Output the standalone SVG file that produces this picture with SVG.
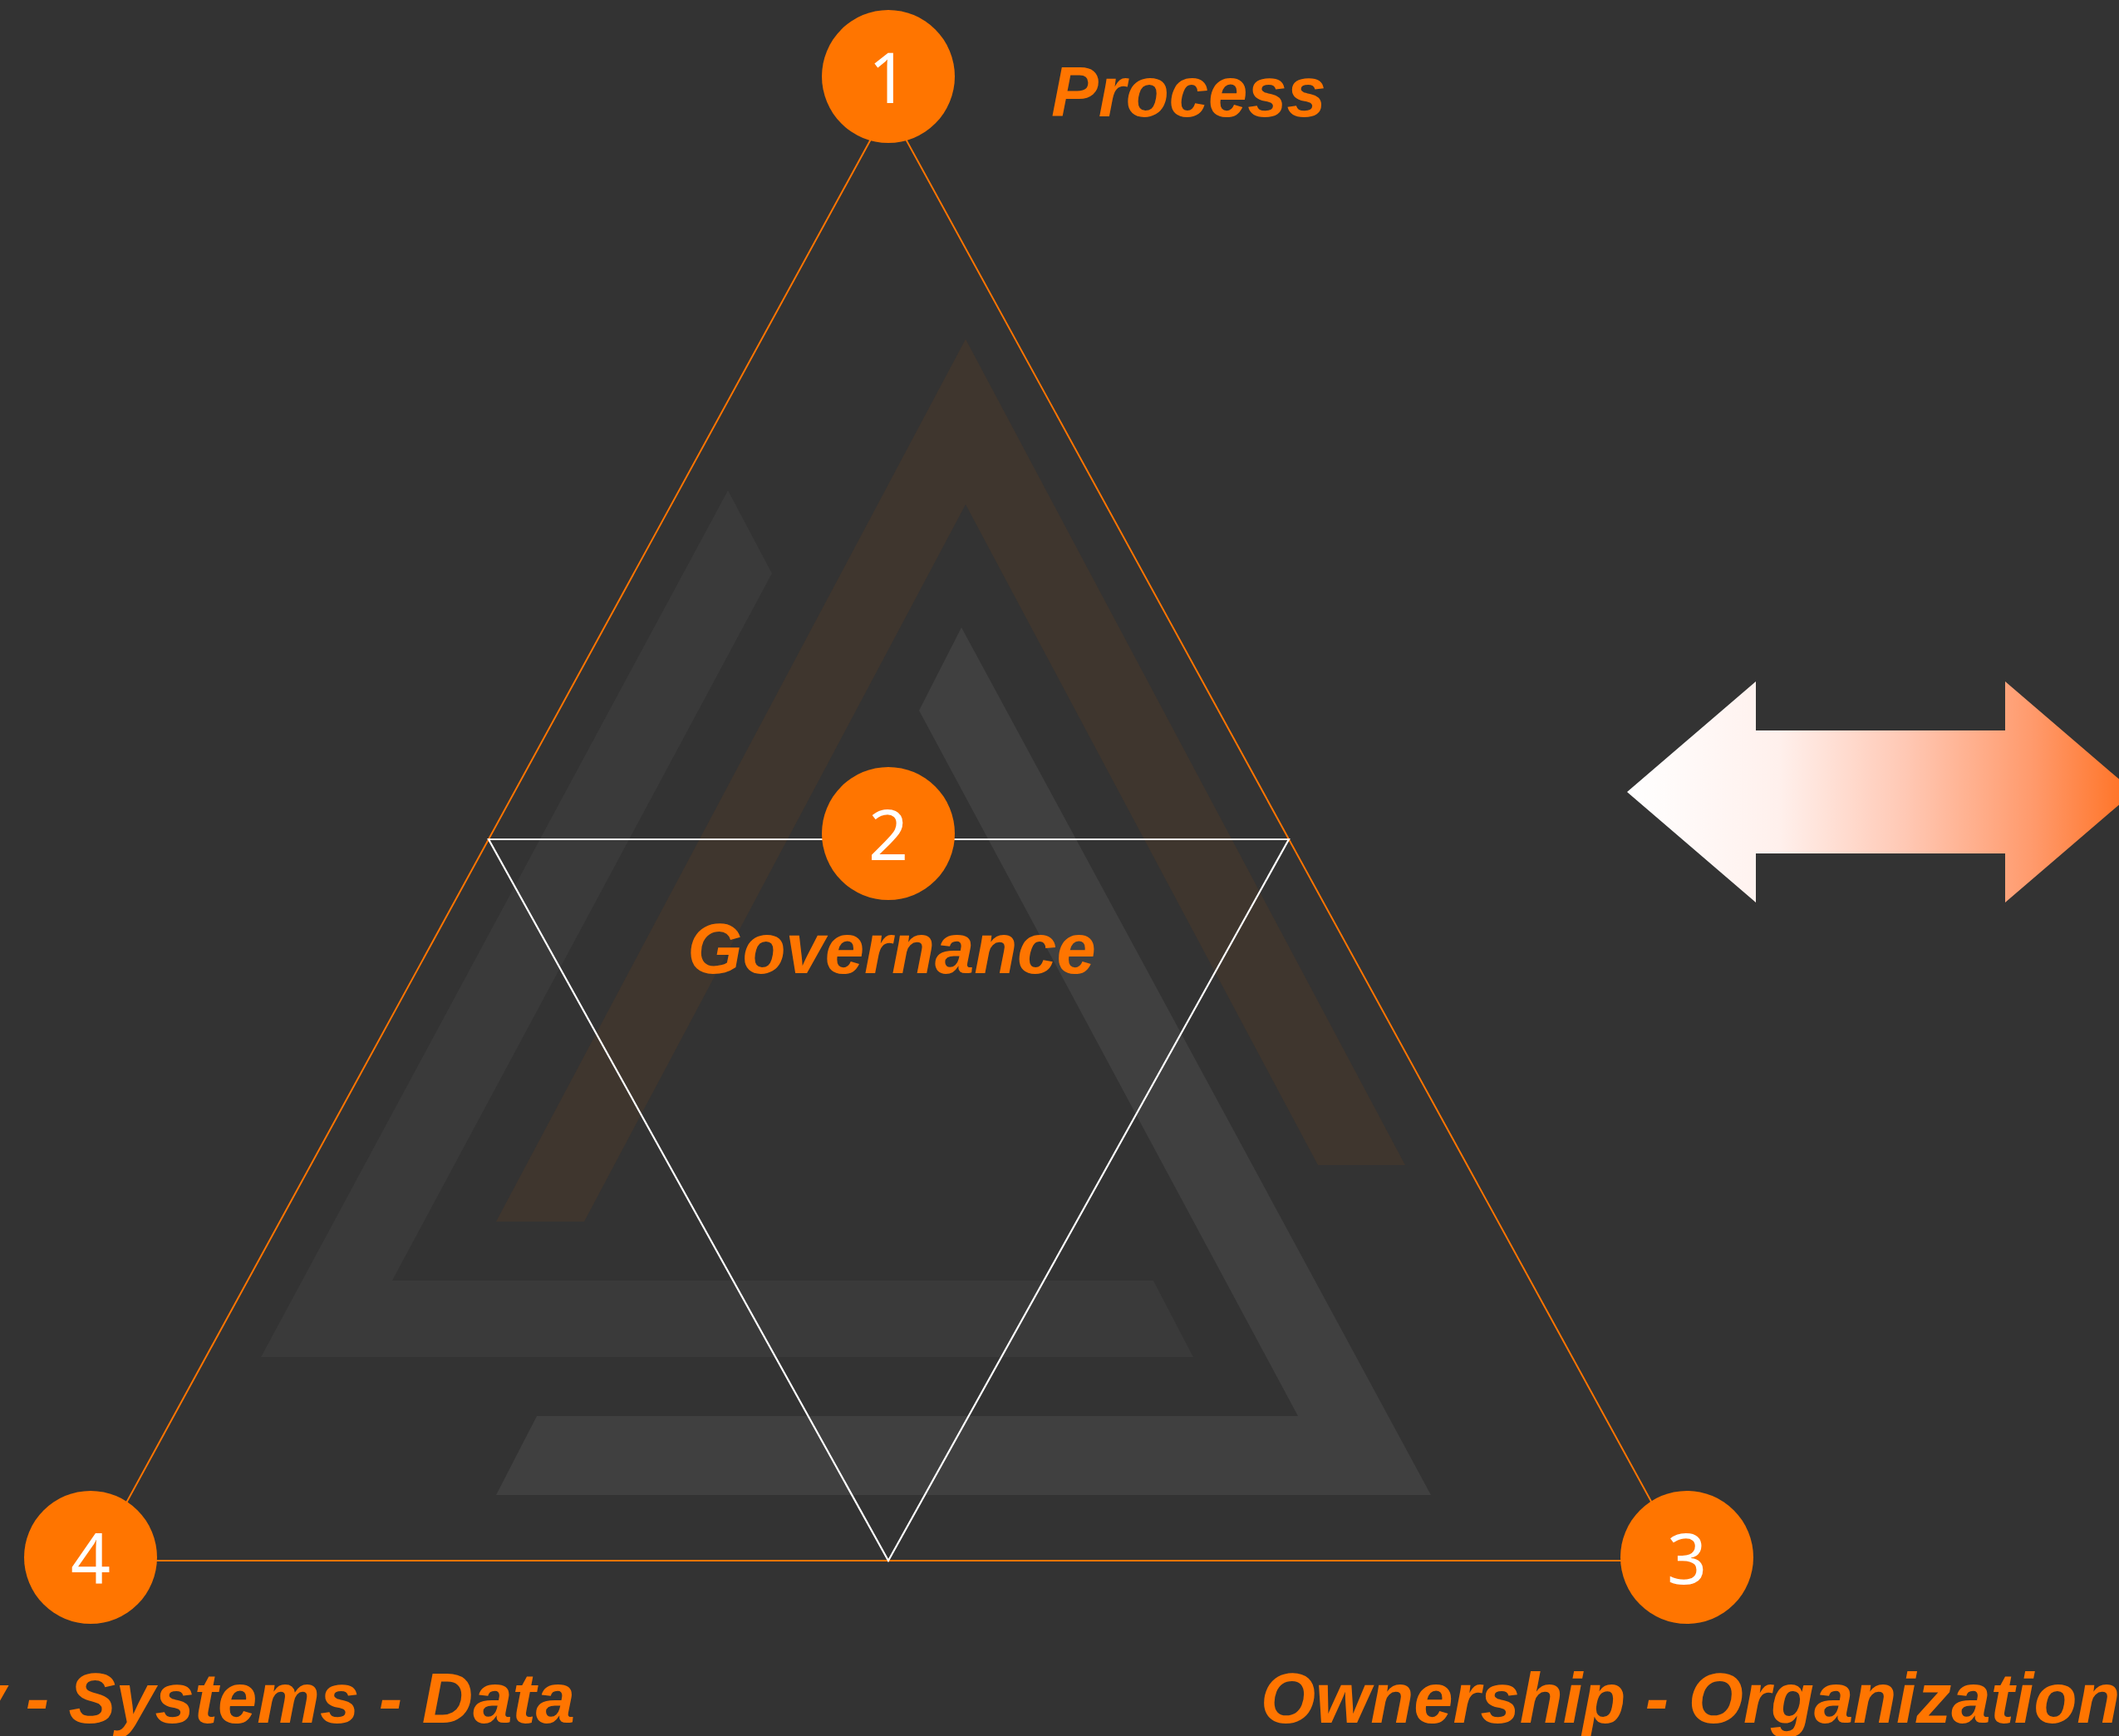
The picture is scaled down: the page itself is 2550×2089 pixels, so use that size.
<svg xmlns="http://www.w3.org/2000/svg" width="2550" height="2089" viewBox="0 0 2550 2089">
<defs>
<style>
.bg{fill:#333333}
.label{font-family:"Liberation Sans",Arial,sans-serif;font-weight:bold;font-style:italic;font-size:85px;fill:#FF7500}
.num{font-family:"Noto Sans","Open Sans",sans-serif;font-size:84px;fill:#FFFFFF;text-anchor:middle}
.dot{fill:#FF7500}
.outer{fill:none;stroke:#FF7500;stroke-width:2}
.inner{fill:none;stroke:#FFFFFF;stroke-width:2.2}
</style>
<linearGradient id="arrowGrad" gradientUnits="userSpaceOnUse" x1="1958" y1="0" x2="2568" y2="0">
<stop offset="0" stop-color="#FFFFFF"/>
<stop offset="0.3" stop-color="#FFF0EC"/>
<stop offset="0.55" stop-color="#FFC8B4"/>
<stop offset="0.8" stop-color="#FF9A6C"/>
<stop offset="1" stop-color="#FF7020"/>
</linearGradient>
</defs>
<rect class="bg" x="0" y="0" width="2550" height="2089"/>
<g id="logo">
<polygon fill="#3F362E" points="1162,408 597,1470 703,1470 1162,607 1586,1402 1691,1402"/>
<polygon fill="#3A3A3A" points="876,590 314,1633 1436,1633 1388,1541 472,1541 929,690"/>
<polygon fill="#404040" points="1157,755 1722,1799 597,1799 646,1704 1562,1704 1106,855"/>
</g>
<g id="connectors">
<polygon class="outer" points="1069,129 114,1878 2026,1878"/>
<polygon class="inner" points="588,1010 1551,1010 1069,1878"/>
</g>
<g id="node1">
<circle class="dot" cx="1069" cy="92" r="80"/>
<text class="num" x="1069" y="124">1</text>
</g>
<g id="node2">
<circle class="dot" cx="1069" cy="1003" r="80"/>
<text class="num" x="1069" y="1035">2</text>
</g>
<g id="node3">
<circle class="dot" cx="2030" cy="1874" r="80"/>
<text class="num" x="2030" y="1906">3</text>
</g>
<g id="node4">
<circle class="dot" cx="109" cy="1874" r="80"/>
<text class="num" x="109" y="1906">4</text>
</g>
<g id="labels">
<text class="label" x="1265" y="140">Process</text>
<text class="label" x="1073" y="1171" text-anchor="middle">Governance</text>
<text class="label" x="1517" y="2073">Ownership - Organization</text>
<text class="label" x="692" y="2073" text-anchor="end">Technology - Systems - Data</text>
</g>
<g id="arrow">
<polygon fill="url(#arrowGrad)" points="1958,953 2113,820 2113,879 2413,879 2413,820 2568,953 2413,1086 2413,1027 2113,1027 2113,1086"/>
</g>
</svg>
